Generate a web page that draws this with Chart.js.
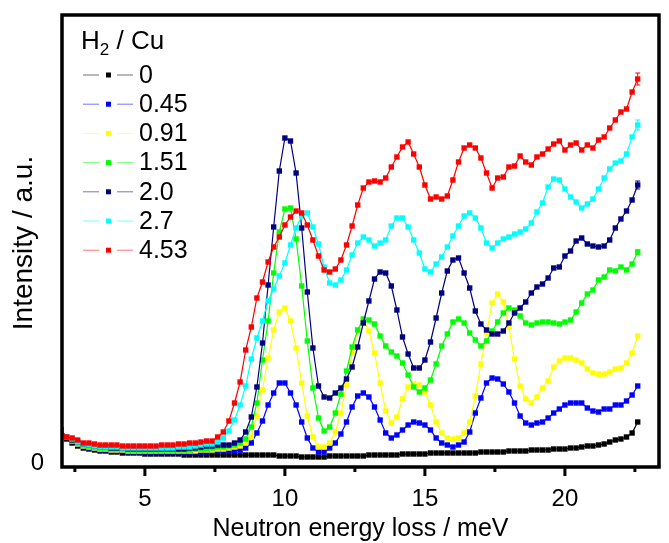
<!DOCTYPE html>
<html>
<head>
<meta charset="utf-8">
<script src="https://cdn.jsdelivr.net/npm/chart.js@4/dist/chart.umd.min.js"></script>
<style>
  html, body { margin: 0; padding: 0; background: #fff; }
  #wrap { width: 669px; height: 543px; }
</style>
</head>
<body>
<div id="wrap"><canvas id="chart" width="669" height="543"></canvas></div>
<script>
const FONT = '"Liberation Sans", Arial, sans-serif';

const energy = [
  1.8, 2.0, 2.2, 2.4, 2.6, 2.8, 3.0, 3.2, 3.4, 3.6,
  3.8, 4.0, 4.2, 4.4, 4.6, 4.8, 5.0, 5.2, 5.4, 5.6,
  5.8, 6.0, 6.2, 6.4, 6.6, 6.8, 7.0, 7.2, 7.4, 7.6,
  7.8, 8.0, 8.2, 8.4, 8.6, 8.8, 9.0, 9.2, 9.4, 9.6,
  9.8, 10.0, 10.2, 10.4, 10.6, 10.8, 11.0, 11.2, 11.4, 11.6,
  11.8, 12.0, 12.2, 12.4, 12.6, 12.8, 13.0, 13.2, 13.4, 13.6,
  13.8, 14.0, 14.2, 14.4, 14.6, 14.8, 15.0, 15.2, 15.4, 15.6,
  15.8, 16.0, 16.2, 16.4, 16.6, 16.8, 17.0, 17.2, 17.4, 17.6,
  17.8, 18.0, 18.2, 18.4, 18.6, 18.8, 19.0, 19.2, 19.4, 19.6,
  19.8, 20.0, 20.2, 20.4, 20.6, 20.8, 21.0, 21.2, 21.4, 21.6,
  21.8, 22.0, 22.2, 22.4, 22.6
];

const labels = ['0', '0.45', '0.91', '1.51', '2.0', '2.7', '4.53'];
const colors = ['#000000', '#0000ff', '#ffff00', '#00ff00', '#000080', '#00ffff', '#ff0000'];

const h0 = [
  0.58, 0.33, 0.24, 0.20, 0.17, 0.15, 0.14, 0.13, 0.12, 0.12,
  0.11, 0.11, 0.10, 0.10, 0.10, 0.10, 0.09, 0.09, 0.09, 0.09,
  0.09, 0.09, 0.09, 0.08, 0.08, 0.08, 0.08, 0.08, 0.08, 0.08,
  0.08, 0.08, 0.08, 0.08, 0.08, 0.08, 0.08, 0.08, 0.08, 0.08,
  0.07, 0.07, 0.07, 0.07, 0.06, 0.06, 0.06, 0.06, 0.06, 0.07,
  0.07, 0.07, 0.07, 0.07, 0.07, 0.07, 0.08, 0.08, 0.08, 0.08,
  0.08, 0.08, 0.09, 0.09, 0.09, 0.09, 0.09, 0.10, 0.10, 0.10,
  0.10, 0.10, 0.10, 0.10, 0.10, 0.10, 0.11, 0.11, 0.11, 0.11,
  0.11, 0.12, 0.12, 0.12, 0.12, 0.13, 0.13, 0.13, 0.13, 0.14,
  0.14, 0.14, 0.15, 0.15, 0.16, 0.17, 0.17, 0.18, 0.19, 0.21,
  0.23, 0.24, 0.26, 0.30, 0.41
];
const h045 = [
  0.58, 0.33, 0.26, 0.22, 0.19, 0.17, 0.15, 0.14, 0.13, 0.13,
  0.12, 0.12, 0.12, 0.11, 0.11, 0.11, 0.11, 0.11, 0.11, 0.11,
  0.11, 0.11, 0.11, 0.11, 0.11, 0.11, 0.11, 0.11, 0.12, 0.12,
  0.12, 0.12, 0.12, 0.13, 0.15, 0.20, 0.30, 0.42, 0.58, 0.70,
  0.80, 0.80, 0.70, 0.58, 0.41, 0.25, 0.15, 0.11, 0.11, 0.15,
  0.20, 0.29, 0.41, 0.56, 0.67, 0.70, 0.66, 0.56, 0.43, 0.30,
  0.25, 0.28, 0.33, 0.38, 0.41, 0.40, 0.38, 0.33, 0.25, 0.20,
  0.18, 0.16, 0.18, 0.21, 0.31, 0.50, 0.65, 0.80, 0.85, 0.84,
  0.79, 0.71, 0.60, 0.47, 0.40, 0.38, 0.40, 0.41, 0.45, 0.50,
  0.54, 0.58, 0.60, 0.60, 0.60, 0.55, 0.52, 0.51, 0.54, 0.54,
  0.58, 0.58, 0.62, 0.68, 0.77
];
const h091 = [
  0.58, 0.33, 0.26, 0.22, 0.19, 0.17, 0.16, 0.15, 0.14, 0.14,
  0.13, 0.13, 0.13, 0.12, 0.12, 0.12, 0.12, 0.12, 0.12, 0.12,
  0.12, 0.12, 0.12, 0.12, 0.12, 0.12, 0.13, 0.13, 0.13, 0.14,
  0.14, 0.15, 0.16, 0.17, 0.20, 0.26, 0.47, 0.73, 1.05, 1.33,
  1.51, 1.55, 1.42, 1.15, 0.80, 0.47, 0.26, 0.16, 0.16, 0.20,
  0.31, 0.50, 0.78, 1.10, 1.33, 1.43, 1.32, 1.10, 0.80, 0.52,
  0.40, 0.46, 0.64, 0.76, 0.79, 0.78, 0.71, 0.58, 0.41, 0.30,
  0.25, 0.24, 0.25, 0.30, 0.41, 0.67, 0.99, 1.30, 1.60, 1.69,
  1.61, 1.36, 1.04, 0.77, 0.64, 0.60, 0.66, 0.75, 0.82, 0.96,
  1.02, 1.05, 1.05, 1.03, 1.00, 0.94, 0.90, 0.89, 0.89, 0.91,
  0.94, 0.95, 1.00, 1.10, 1.27
];
const h151 = [
  0.58, 0.33, 0.26, 0.23, 0.20, 0.18, 0.17, 0.16, 0.15, 0.15,
  0.14, 0.14, 0.14, 0.13, 0.13, 0.13, 0.13, 0.13, 0.13, 0.13,
  0.13, 0.13, 0.13, 0.13, 0.13, 0.14, 0.14, 0.14, 0.15, 0.16,
  0.16, 0.17, 0.18, 0.20, 0.24, 0.36, 0.60, 1.03, 1.42, 1.90,
  2.31, 2.54, 2.55, 2.24, 1.77, 1.22, 0.75, 0.45, 0.32, 0.36,
  0.50, 0.69, 0.92, 1.16, 1.33, 1.44, 1.43, 1.39, 1.27, 1.17,
  1.11, 1.07, 1.00, 0.88, 0.76, 0.71, 0.75, 0.83, 0.99, 1.17,
  1.29, 1.41, 1.44, 1.40, 1.30, 1.23, 1.17, 1.22, 1.32, 1.41,
  1.50, 1.55, 1.53, 1.47, 1.40, 1.38, 1.40, 1.41, 1.41, 1.40,
  1.39, 1.41, 1.43, 1.51, 1.60, 1.69, 1.73, 1.83, 1.86, 1.93,
  1.92, 1.96, 1.93, 1.99, 2.11
];
const h20 = [
  0.58, 0.33, 0.26, 0.23, 0.21, 0.19, 0.18, 0.17, 0.16, 0.16,
  0.15, 0.15, 0.15, 0.14, 0.14, 0.14, 0.14, 0.14, 0.14, 0.14,
  0.14, 0.14, 0.14, 0.14, 0.15, 0.15, 0.16, 0.17, 0.17, 0.18,
  0.18, 0.18, 0.20, 0.23, 0.31, 0.46, 0.76, 1.20, 1.78, 2.36,
  2.92, 3.25, 3.22, 2.90, 2.35, 1.71, 1.15, 0.77, 0.66, 0.65,
  0.70, 0.75, 0.84, 0.96, 1.16, 1.40, 1.62, 1.84, 1.91, 1.90,
  1.77, 1.53, 1.26, 1.09, 0.95, 0.95, 1.03, 1.21, 1.45, 1.70,
  1.92, 2.03, 2.05, 1.90, 1.75, 1.52, 1.39, 1.33, 1.29, 1.29,
  1.32, 1.40, 1.50, 1.55, 1.61, 1.70, 1.76, 1.79, 1.85, 1.95,
  1.96, 2.07, 2.12, 2.22, 2.25, 2.19, 2.17, 2.16, 2.17, 2.23,
  2.35, 2.44, 2.52, 2.63, 2.78
];
const h27 = [
  0.58, 0.33, 0.26, 0.24, 0.21, 0.19, 0.18, 0.17, 0.16, 0.16,
  0.16, 0.16, 0.15, 0.15, 0.15, 0.15, 0.15, 0.15, 0.15, 0.15,
  0.15, 0.15, 0.16, 0.16, 0.16, 0.17, 0.18, 0.19, 0.19, 0.21,
  0.25, 0.32, 0.43, 0.58, 0.77, 1.04, 1.25, 1.42, 1.62, 1.74,
  1.87, 2.00, 2.18, 2.35, 2.47, 2.50, 2.36, 2.19, 1.96, 1.80,
  1.78, 1.83, 1.93, 2.08, 2.20, 2.26, 2.23, 2.17, 2.20, 2.23,
  2.37, 2.45, 2.45, 2.36, 2.23, 2.10, 1.94, 1.91, 1.99, 2.06,
  2.16, 2.27, 2.37, 2.47, 2.50, 2.45, 2.35, 2.20, 2.15, 2.20,
  2.24, 2.26, 2.29, 2.31, 2.34, 2.40, 2.51, 2.60, 2.76, 2.84,
  2.83, 2.74, 2.66, 2.61, 2.55, 2.59, 2.64, 2.74, 2.85, 2.94,
  3.00, 3.02, 3.09, 3.26, 3.38
];
const h453 = [
  0.58, 0.33, 0.26, 0.25, 0.23, 0.20, 0.20, 0.19, 0.18, 0.18,
  0.18, 0.18, 0.17, 0.17, 0.17, 0.17, 0.17, 0.17, 0.17, 0.18,
  0.18, 0.18, 0.19, 0.19, 0.20, 0.20, 0.21, 0.22, 0.22, 0.26,
  0.31, 0.42, 0.60, 0.81, 1.13, 1.36, 1.65, 1.81, 2.01, 2.16,
  2.26, 2.38, 2.46, 2.52, 2.50, 2.38, 2.23, 2.07, 1.93, 1.91,
  1.94, 2.03, 2.18, 2.37, 2.58, 2.75, 2.81, 2.82, 2.81, 2.85,
  2.96, 3.06, 3.16, 3.21, 3.09, 2.96, 2.78, 2.64, 2.66, 2.64,
  2.67, 2.83, 3.01, 3.15, 3.18, 3.15, 3.05, 2.90, 2.75, 2.85,
  2.86, 2.96, 2.97, 3.07, 3.01, 2.98, 3.06, 3.09, 3.14, 3.19,
  3.22, 3.13, 3.18, 3.20, 3.13, 3.18, 3.15, 3.23, 3.26, 3.35,
  3.43, 3.51, 3.54, 3.71, 3.84
];

// error bar on the last point of each curve
const lastErr = [0, 0, 0, 0.02, 0.04, 0.05, 0.06];

const xTicks = [5, 10, 15, 20];
const xMinorTicks = [2.5, 7.5, 12.5, 17.5, 22.5];

const series = [h0, h045, h091, h151, h20, h27, h453];

const datasets = series.map(function(vals, i) {
  return {
    label: labels[i],
    data: vals.map(function(v, j) { return { x: energy[j], y: v }; }),
    borderColor: colors[i],
    backgroundColor: colors[i],
    borderWidth: 1.2,
    pointStyle: 'rect',
    pointRadius: 3.8,
    pointBorderWidth: 0,
    tension: 0,
    order: 7 - i
  };
});

const framePlugin = {
  id: 'frame',
  afterDatasetsDraw(chart) {
    const ctx = chart.ctx;
    const a = chart.chartArea;
    const xs = chart.scales.x;
    const ys = chart.scales.y;
    ctx.save();

    // error bars
    ctx.lineWidth = 1;
    chart.data.datasets.forEach(function(ds, i) {
      const e = lastErr[i];
      if (!e) return;
      const p = ds.data[ds.data.length - 1];
      const px = xs.getPixelForValue(p.x);
      const y1 = ys.getPixelForValue(p.y + e);
      const y2 = ys.getPixelForValue(p.y - e);
      ctx.strokeStyle = ds.borderColor;
      ctx.beginPath();
      ctx.moveTo(px, y1); ctx.lineTo(px, y2);
      ctx.moveTo(px - 2.5, y1); ctx.lineTo(px + 2.5, y1);
      ctx.moveTo(px - 2.5, y2); ctx.lineTo(px + 2.5, y2);
      ctx.stroke();
    });

    // frame
    ctx.strokeStyle = '#000';
    ctx.lineWidth = 3.5;
    ctx.strokeRect(a.left, a.top, a.right - a.left, a.bottom - a.top);

    // x ticks (outside)
    ctx.lineWidth = 3;
    ctx.beginPath();
    xTicks.forEach(function(v) {
      const px = xs.getPixelForValue(v);
      ctx.moveTo(px, a.bottom); ctx.lineTo(px, a.bottom + 9);
    });
    xMinorTicks.forEach(function(v) {
      const px = xs.getPixelForValue(v);
      ctx.moveTo(px, a.bottom); ctx.lineTo(px, a.bottom + 5);
    });
    ctx.stroke();

    // axis titles
    ctx.fillStyle = '#000';
    ctx.font = '25px ' + FONT;
    ctx.textAlign = 'center';
    ctx.textBaseline = 'middle';
    ctx.fillText('Neutron energy loss / meV', (a.left + a.right) / 2, 529);
    ctx.save();
    ctx.translate(24, 243);
    ctx.rotate(-Math.PI / 2);
    ctx.font = '28px ' + FONT;
    ctx.fillText('Intensity / a.u.', 0, 0);
    ctx.restore();

    // legend
    ctx.textAlign = 'left';
    ctx.font = '26px ' + FONT;
    ctx.textBaseline = 'alphabetic';
    ctx.fillText('H', 81, 49);
    let w = ctx.measureText('H').width;
    ctx.font = '17px ' + FONT;
    ctx.fillText('2', 81 + w, 55);
    w += ctx.measureText('2').width;
    ctx.font = '26px ' + FONT;
    ctx.fillText(' / Cu', 81 + w, 49);

    ctx.font = '25px ' + FONT;
    ctx.textBaseline = 'middle';
    chart.data.datasets.forEach(function(ds, i) {
      const y = 75 + i * 29.2;
      ctx.globalAlpha = 0.55;
      ctx.strokeStyle = ds.borderColor;
      ctx.lineWidth = 1;
      ctx.beginPath();
      ctx.moveTo(83, y); ctx.lineTo(99, y);
      ctx.moveTo(117, y); ctx.lineTo(133, y);
      ctx.stroke();
      ctx.globalAlpha = 1;
      ctx.fillStyle = ds.backgroundColor;
      ctx.fillRect(106, y - 2.5, 5, 5);
      ctx.fillStyle = '#000';
      ctx.fillText(ds.label, 139, y + 1);
    });
    ctx.restore();
  }
};

new Chart(document.getElementById('chart').getContext('2d'), {
  type: 'line',
  data: { datasets: datasets },
  options: {
    responsive: false,
    animation: false,
    devicePixelRatio: 1,
    layout: { padding: { left: 0, right: 10, top: 15, bottom: 0 } },
    plugins: { legend: { display: false }, tooltip: { enabled: false } },
    scales: {
      x: {
        type: 'linear',
        min: 2.04,
        max: 23.36,
        afterFit: function(s) {
          s.height = 76;
          s.paddingLeft = 0; s.paddingRight = 0;
        },
        afterBuildTicks: function(s) { s.ticks = xTicks.map(function(v) { return { value: v }; }); },
        grid: { display: false, drawTicks: false },
        border: { display: false },
        ticks: { color: '#000', font: { size: 24, family: FONT }, padding: 18, maxRotation: 0 }
      },
      y: {
        min: -0.04,
        max: 4.48,
        afterFit: function(s) {
          s.width = 62;
          s.paddingTop = 0; s.paddingBottom = 0;
        },
        afterBuildTicks: function(s) { s.ticks = [{ value: 0 }]; },
        grid: { display: false, drawTicks: false },
        border: { display: false },
        ticks: { color: '#000', font: { size: 24, family: FONT }, padding: 18 }
      }
    }
  },
  plugins: [framePlugin]
});
</script>
</body>
</html>
